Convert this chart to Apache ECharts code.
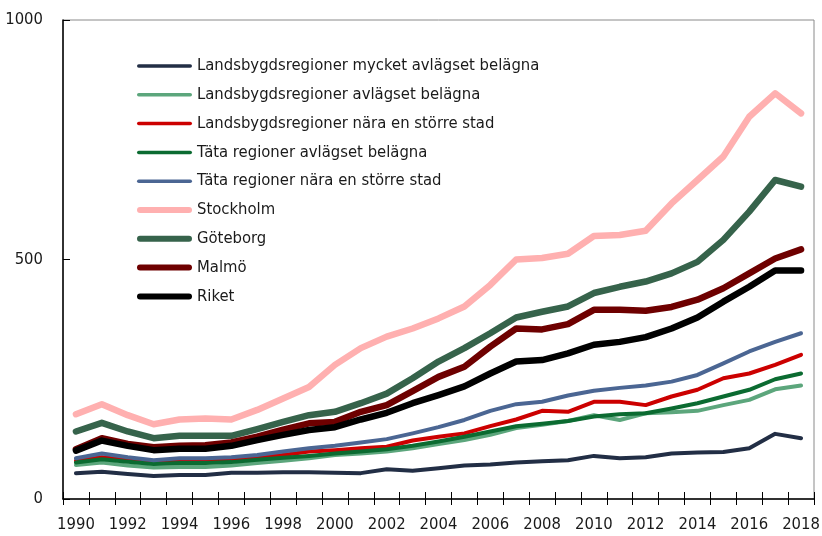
<!DOCTYPE html>
<html>
<head>
<meta charset="utf-8">
<title>Regioner 1990–2018</title>
<script src="https://cdn.jsdelivr.net/npm/echarts@6/dist/echarts.min.js"></script>
<style>
  html, body { margin: 0; padding: 0; background: #fff; }
  #chart { width: 822px; height: 536px; }
</style>
</head>
<body>
<div id="chart"></div>
<script>
// Years on the category axis
const years = ['1990','1991','1992','1993','1994','1995','1996','1997','1998','1999',
  '2000','2001','2002','2003','2004','2005','2006','2007','2008','2009',
  '2010','2011','2012','2013','2014','2015','2016','2017','2018'];

// Value-axis ticks
const yTicks = [0, 500, 1000];

// Series names (legend order)
const names = [
  'Landsbygdsregioner mycket avlägset belägna',
  'Landsbygdsregioner avlägset belägna',
  'Landsbygdsregioner nära en större stad',
  'Täta regioner avlägset belägna',
  'Täta regioner nära en större stad',
  'Stockholm',
  'Göteborg',
  'Malmö',
  'Riket'
];

// Values per region, 1990–2018
const landsbygdMycketAvlagset = [54,57,52,48,50,50,55,55,56,56,55,54,62,59,64,70,72,76,79,81,90,85,87,95,97,98,106,136,127];
const landsbygdAvlagset      = [71,76,70,66,67,67,70,75,80,85,92,95,99,106,115,123,134,148,155,163,175,165,179,181,184,196,207,229,237];
const landsbygdNara          = [80,87,82,77,80,80,82,86,92,99,102,106,109,122,130,137,152,166,184,182,203,203,196,214,228,252,262,280,301];
const tataAvlagset           = [76,83,78,73,75,75,77,82,86,90,95,99,104,111,120,130,141,152,157,163,172,177,179,189,200,214,228,250,262];
const tataNara               = [85,95,87,81,85,85,87,92,99,106,111,118,125,137,150,165,184,198,203,216,226,232,237,245,259,283,308,328,346];
const stockholm              = [177,198,175,156,166,168,166,186,210,234,280,315,339,356,377,402,447,500,503,512,549,551,560,617,666,715,798,847,805];
const goteborg               = [141,159,141,127,132,132,132,146,161,175,182,200,220,252,287,315,346,379,391,402,430,443,454,471,495,541,600,666,652];
const malmo                  = [104,127,115,108,111,112,118,130,145,158,161,182,196,225,255,276,318,356,354,365,395,395,393,401,416,440,471,502,521];
const riket                  = [101,122,111,102,105,105,111,123,134,144,150,166,180,200,217,235,262,287,290,304,322,328,338,356,379,412,443,477,477];

const values = [landsbygdMycketAvlagset, landsbygdAvlagset, landsbygdNara, tataAvlagset,
  tataNara, stockholm, goteborg, malmo, riket];

const colors = ['#222e45', '#5ca67c', '#cc0000', '#0b6b31', '#4b6693',
  '#ffb0b0', '#36634b', '#6e0000', '#000000'];
const widths = [4, 4, 4, 4, 4, 6.5, 6.5, 6.5, 6.5];

// Legend key: a short stroke with rounded ends, thickness matching the series
function strokeIcon(w) {
  const r = w / 2;
  return 'path://M' + r + ',0 L' + (55 - r) + ',0 A' + r + ',' + r + ' 0 0 1 ' + (55 - r) + ',' + w +
    ' L' + r + ',' + w + ' A' + r + ',' + r + ' 0 0 1 ' + r + ',0 Z';
}

const FONT = "'Liberation Sans Narrow', 'Arial Narrow', 'DejaVu Sans Condensed', sans-serif";
const FS = 16.5;

const chart = echarts.init(document.getElementById('chart'), null, { renderer: 'canvas' });

chart.setOption({
  animation: false,
  backgroundColor: '#ffffff',
  color: colors,
  textStyle: { fontFamily: FONT },
  grid: {
    left: 63, top: 20, right: 8, bottom: 37,
    outerBoundsMode: 'none',
    containLabel: false,
    show: true, borderColor: '#8a8a8a', borderWidth: 1, backgroundColor: 'transparent'
  },
  legend: {
    orient: 'vertical',
    left: 137,
    top: 56,
    padding: 0,
    itemWidth: 55,
    itemHeight: 14,
    itemGap: 8.8,
    symbolKeepAspect: true,
    data: names.map((n, i) => ({ name: n, icon: strokeIcon(widths[i] - 0.5) })),
    textStyle: { fontFamily: FONT, fontSize: FS, color: '#1a1a1a', lineHeight: 20 }
  },
  xAxis: [
    {
      type: 'category',
      data: years,
      boundaryGap: true,
      axisLine: { show: true, lineStyle: { color: '#000', width: 1.5 } },
      axisTick: { show: true, inside: true, length: 7, interval: 0, lineStyle: { color: '#000' } },
      axisLabel: { interval: 1, fontFamily: FONT, fontSize: FS, color: '#1a1a1a', margin: 17 },
      splitLine: { show: false }
    },
    {
      type: 'category',
      data: years,
      boundaryGap: true,
      position: 'bottom',
      axisLine: { show: false },
      axisTick: { show: true, inside: false, length: 6, interval: 0, lineStyle: { color: '#000' } },
      axisLabel: { show: false },
      splitLine: { show: false }
    }
  ],
  yAxis: {
    type: 'value',
    min: yTicks[0],
    max: yTicks[yTicks.length - 1],
    interval: yTicks[1] - yTicks[0],
    axisLine: { show: true, lineStyle: { color: '#000', width: 1.5 } },
    axisTick: { show: true, inside: true, length: 7, lineStyle: { color: '#000' } },
    axisLabel: {
      fontFamily: FONT, fontSize: FS, color: '#1a1a1a', margin: 20,
      formatter: v => String(v)
    },
    splitLine: { show: false }
  },
  series: names.map((n, i) => ({
    name: n,
    type: 'line',
    xAxisIndex: 0,
    data: values[i],
    symbol: 'none',
    smooth: false,
    lineStyle: { color: colors[i], width: widths[i], cap: 'round', join: 'round' },
    itemStyle: { color: colors[i] }
  }))
});
</script>
</body>
</html>
